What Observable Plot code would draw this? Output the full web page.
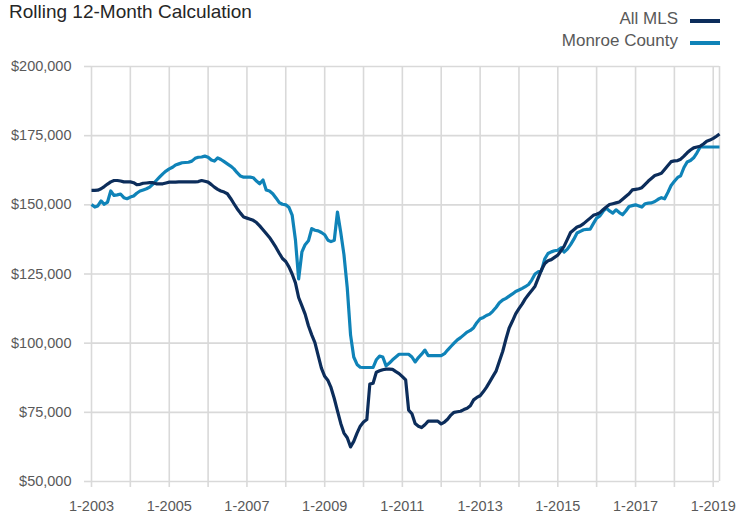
<!DOCTYPE html>
<html>
<head>
<meta charset="utf-8">
<script src="https://cdn.jsdelivr.net/npm/d3@7"></script>
<script src="https://cdn.jsdelivr.net/npm/@observablehq/plot@0.6"></script>
<style>
  body { margin: 0; background: #fff; font-family: "Liberation Sans", Arial, sans-serif; }
  #wrap { position: relative; width: 738px; height: 515px; overflow: hidden; }
  #head { position: relative; width: 738px; height: 55px; }
  #title { position: absolute; left: 9px; top: 1px; font-size: 19px; color: #262626; white-space: nowrap; }
  .leg { position: absolute; right: 60px; font-size: 17px; color: #595959; white-space: nowrap; }
  .sw { position: absolute; left: 690px; width: 30px; height: 3.5px; }
</style>
</head>
<body>
<div id="wrap">
  <div id="head">
    <div id="title">Rolling 12-Month Calculation</div>
    <div class="leg" id="leg0" style="top:9px">All MLS</div>
    <div class="sw" id="sw0" style="top:19px"></div>
    <div class="leg" id="leg1" style="top:31px">Monroe County</div>
    <div class="sw" id="sw1" style="top:41px"></div>
  </div>
  <div id="chart"></div>
</div>
<script>
// Series names and colours
const seriesNames = ["All MLS", "Monroe County"];
const seriesColors = ["#0c2d5b", "#0f83b8"];

// Monthly rolling 12-month median prices, in $ thousands, Jan 2003 .. Mar 2019
const allMLS = [
  155.2,155.2,155.3,155.8,156.6,157.5,158.3,158.8,158.8,158.6,158.3,158.3, // 2003
  158.3,158.0,157.3,157.4,157.8,157.9,158.0,158.0,157.6,157.6,157.6,157.9, // 2004
  158.2,158.2,158.2,158.3,158.3,158.3,158.3,158.3,158.3,158.4,158.8,158.5, // 2005
  158.2,157.3,156.4,155.6,155.0,154.6,154.0,152.3,150.4,148.6,147.0,145.6, // 2006
  145.2,144.8,144.4,143.6,142.4,141.0,139.6,138.2,136.4,134.6,132.5,130.6, // 2007
  129.5,127.5,125.0,121.8,116.5,113.5,110.5,106.3,103.0,100.2,95.5,91.0,   // 2008
  88.0,86.5,84.0,80.0,75.5,71.0,67.5,65.8,62.5,64.5,67.5,70.0,             // 2009
  71.5,72.4,85.2,85.5,89.5,90.0,90.4,90.6,90.6,90.5,89.7,89.0,             // 2010
  87.9,86.7,75.8,74.5,71.0,70.0,69.5,70.5,71.8,71.8,71.8,71.8,             // 2011
  70.8,71.5,72.5,74.0,75.0,75.2,75.4,76.0,76.5,77.4,79.5,80.4,             // 2012
  81.0,82.5,84.0,86.0,88.0,90.0,93.5,97.0,101.5,105.5,108.0,110.6,         // 2013
  112.5,114.2,116.0,117.6,119.0,120.6,123.5,126.5,128.8,129.8,130.2,131.0, // 2014
  131.8,133.5,135.0,137.5,140.0,141.0,142.0,142.4,143.2,144.2,145.2,146.2, // 2015
  146.6,147.2,148.2,149.2,150.1,150.4,150.7,151.0,152.0,153.0,154.0,155.4, // 2016
  155.6,155.8,156.2,157.4,158.6,159.6,160.6,161.0,161.4,162.8,164.2,165.6, // 2017
  165.9,166.0,166.5,167.6,168.8,169.8,170.6,170.9,171.2,172.0,173.0,173.4, // 2018
  174.0,174.8,175.6                                                        // 2019
];
const monroe = [
  150.1,149.2,149.6,151.4,150.2,151.0,155.0,153.4,153.6,153.9,152.6,152.2, // 2003
  152.8,153.2,154.2,155.0,155.4,155.8,156.4,157.5,158.8,160.0,161.2,162.2, // 2004
  163.0,163.6,164.4,164.8,165.2,165.3,165.4,165.8,166.8,167.2,167.3,167.6, // 2005
  167.2,166.2,165.8,167.0,166.4,165.6,164.8,164.0,163.0,161.6,160.4,160.0, // 2006
  160.0,160.0,159.8,158.6,157.6,159.0,155.4,155.0,154.0,152.5,150.8,150.2, // 2007
  150.0,149.0,146.3,137.3,123.2,133.0,135.6,137.0,141.4,140.8,140.6,140.0, // 2008
  139.2,137.2,136.7,137.2,147.4,140.0,132.0,120.0,103.0,95.0,92.3,91.3,    // 2009
  91.2,91.2,91.2,91.2,94.0,95.3,95.0,91.8,92.8,94.0,95.0,96.0,             // 2010
  96.0,96.0,96.0,95.0,93.2,94.8,96.0,97.5,95.5,95.5,95.5,95.5,             // 2011
  95.5,96.2,97.5,98.8,100.0,101.2,102.0,103.0,104.0,104.6,105.6,107.4,     // 2012
  108.8,109.3,110.0,110.5,111.6,113.0,114.6,115.6,116.2,117.0,117.8,118.7, // 2013
  119.2,119.8,120.4,121.2,122.8,125.0,125.8,126.2,130.5,132.4,133.0,133.4, // 2014
  133.6,134.5,132.9,134.0,135.6,137.6,139.8,140.4,141.0,141.1,141.2,143.2, // 2015
  145.2,146.0,147.6,148.8,147.8,147.0,148.2,147.2,146.4,147.8,149.4,149.7, // 2016
  150.0,149.6,149.2,150.4,150.6,150.7,151.2,152.0,152.6,152.2,154.5,157.0, // 2017
  158.5,159.9,160.5,163.5,165.5,166.0,167.0,168.8,170.9,170.9,170.9,170.9, // 2018
  170.9,170.9,170.9                                                        // 2019
];

// Axis ticks
const xTickYears = [2003,2004,2005,2006,2007,2008,2009,2010,2011,2012,2013,2014,2015,2016,2017,2018,2019];
const xTickLabels = ["1-2003","1-2005","1-2007","1-2009","1-2011","1-2013","1-2015","1-2017","1-2019"];
const yTicks = [50000, 75000, 100000, 125000, 150000, 175000, 200000];

const firstYear = 2003;
const monthDate = i => new Date(Date.UTC(firstYear, i, 1));
const rows = [
  ...monroe.map((v, i) => ({date: monthDate(i), value: v * 1000, series: seriesNames[1]})),
  ...allMLS.map((v, i) => ({date: monthDate(i), value: v * 1000, series: seriesNames[0]}))
];
const lastDate = monthDate(allMLS.length - 1);
const xTicks = xTickYears.map(y => new Date(Date.UTC(y, 0, 1)));
const labelFor = d => {
  const s = "1-" + d.getUTCFullYear();
  return xTickLabels.includes(s) ? s : "";
};

document.getElementById("leg0").textContent = seriesNames[0];
document.getElementById("leg1").textContent = seriesNames[1];
document.getElementById("sw0").style.background = seriesColors[0];
document.getElementById("sw1").style.background = seriesColors[1];

const grid = "#d9d9d9";
const chart = Plot.plot({
  width: 738,
  height: 460,
  marginLeft: 91,
  marginRight: 19,
  marginTop: 11,
  marginBottom: 34,
  style: { fontFamily: "'Liberation Sans', Arial, sans-serif", fontSize: "14.5px", background: "#fff" },
  x: { type: "utc", domain: [monthDate(0), lastDate] },
  y: { domain: [50000, 200000] },
  color: { domain: seriesNames, range: seriesColors },
  marks: [
    Plot.gridY(yTicks, { stroke: grid, strokeOpacity: 1, strokeWidth: 1.6 }),
    Plot.gridX(xTicks, { stroke: grid, strokeOpacity: 1, strokeWidth: 1.6 }),
    Plot.ruleX([lastDate], { stroke: grid, strokeWidth: 1.6 }),
    Plot.axisY(yTicks, {
      tickSize: 7, tickPadding: 13, stroke: grid, strokeWidth: 1.6, fill: "#595959",
      tickFormat: d => "$" + d3.format(",")(d), label: null
    }),
    Plot.axisX(xTicks, {
      tickSize: 6, tickPadding: 13, stroke: grid, strokeWidth: 1.6, fill: "#595959",
      tickFormat: labelFor, label: null
    }),
    Plot.line(rows, {
      x: "date", y: "value", z: "series", stroke: "series",
      strokeWidth: 3.2, strokeLinejoin: "round", strokeLinecap: "butt"
    })
  ]
});
document.getElementById("chart").appendChild(chart);
</script>
</body>
</html>
